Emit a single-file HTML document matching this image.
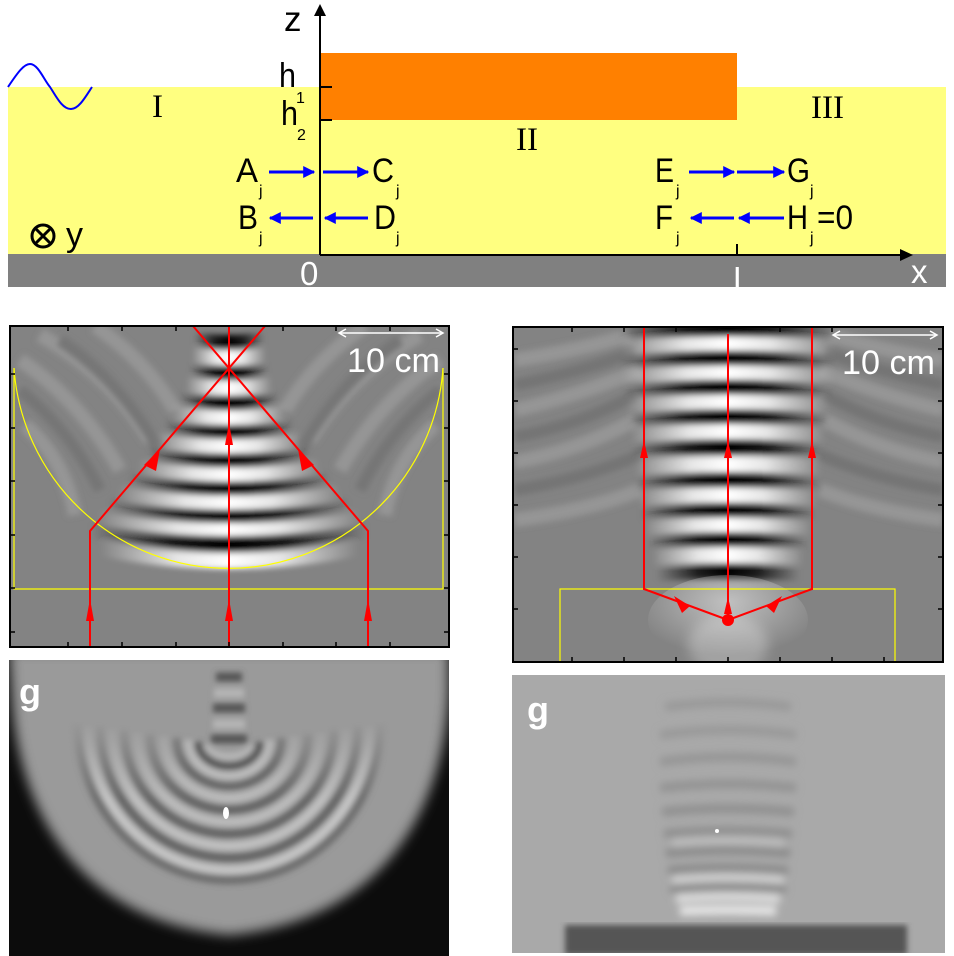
<!DOCTYPE html>
<html><head><meta charset="utf-8"><style>
html,body{margin:0;padding:0;background:#fff;}
svg{display:block;font-family:"Liberation Sans",sans-serif;}
</style></head><body>
<svg width="954" height="956" viewBox="0 0 954 956" xmlns="http://www.w3.org/2000/svg">
<defs>
<linearGradient id="dk" x1="0" x2="1" y1="0" y2="0">
<stop offset="0" stop-color="#000" stop-opacity="0"/><stop offset="0.3" stop-color="#000" stop-opacity="0.8"/><stop offset="0.5" stop-color="#000" stop-opacity="1"/><stop offset="0.7" stop-color="#000" stop-opacity="0.8"/><stop offset="1" stop-color="#000" stop-opacity="0"/></linearGradient>
<linearGradient id="wt" x1="0" x2="1" y1="0" y2="0">
<stop offset="0" stop-color="#fff" stop-opacity="0"/><stop offset="0.3" stop-color="#fff" stop-opacity="0.8"/><stop offset="0.5" stop-color="#fff" stop-opacity="1"/><stop offset="0.7" stop-color="#fff" stop-opacity="0.8"/><stop offset="1" stop-color="#fff" stop-opacity="0"/></linearGradient>
<linearGradient id="dk2" x1="0" x2="1"><stop offset="0" stop-color="#000" stop-opacity="0"/><stop offset="0.5" stop-color="#000" stop-opacity="0.45"/><stop offset="1" stop-color="#000" stop-opacity="0"/></linearGradient>
<linearGradient id="wt2" x1="0" x2="1"><stop offset="0" stop-color="#fff" stop-opacity="0"/><stop offset="0.5" stop-color="#fff" stop-opacity="0.45"/><stop offset="1" stop-color="#fff" stop-opacity="0"/></linearGradient>
<linearGradient id="fadeV" gradientUnits="userSpaceOnUse" x1="0" x2="0" y1="720" y2="800"><stop offset="0" stop-color="#fff" stop-opacity="0"/><stop offset="1" stop-color="#fff" stop-opacity="1"/></linearGradient>
<filter id="mb" x="-50%" y="-50%" width="200%" height="200%"><feGaussianBlur stdDeviation="12"/></filter>
<mask id="mfade" maskUnits="userSpaceOnUse" x="0" y="640" width="460" height="330"><rect x="0" y="640" width="460" height="330" fill="url(#fadeV)"/><rect x="180" y="640" width="98" height="150" fill="#fff" filter="url(#mb)"/></mask>
<radialGradient id="glow" cx="0.5" cy="0.3" r="0.6"><stop offset="0" stop-color="#fff" stop-opacity="0.9"/><stop offset="1" stop-color="#fff" stop-opacity="0"/></radialGradient>
<filter id="bl" x="-20%" y="-20%" width="140%" height="140%"><feGaussianBlur stdDeviation="6"/></filter>
<filter id="bl2" x="-10%" y="-10%" width="120%" height="120%"><feGaussianBlur stdDeviation="3"/></filter>
<filter id="bl3" x="-10%" y="-10%" width="120%" height="120%"><feGaussianBlur stdDeviation="4"/></filter>
<clipPath id="cl"><rect x="10" y="326" width="439" height="321"/></clipPath>
<clipPath id="cr"><rect x="513" y="327" width="430" height="335"/></clipPath>
<clipPath id="pl"><rect x="9" y="660" width="440" height="296"/></clipPath>
<clipPath id="pr"><rect x="512" y="675" width="433" height="278"/></clipPath>
<marker id="ab" viewBox="0 0 10 10" refX="9" refY="5" markerWidth="4" markerHeight="4" orient="auto"><path d="M0,0L10,5L0,10z" fill="#0000ff"/></marker>
</defs>

<!-- TOP DIAGRAM -->
<rect x="8" y="87" width="938" height="167" fill="#ffff80"/>
<rect x="8" y="254" width="938" height="33" fill="#808080"/>
<rect x="320" y="53" width="417" height="67" fill="#ff8000"/>
<path d="M8,87 C18,72 24,64 30,64 C38,64 44,80 50,87 C56,96 62,109 71,109 C79,109 86,96 92,87" fill="none" stroke="#0000ff" stroke-width="2"/>
<line x1="320" y1="255" x2="320" y2="12" stroke="#000" stroke-width="2"/>
<path d="M314,16 L320,4 L326,16z" fill="#000"/>
<line x1="320" y1="255" x2="905" y2="255" stroke="#000" stroke-width="2"/>
<path d="M900,249 L913,255 L900,261z" fill="#000"/>
<line x1="320" y1="87" x2="332" y2="87" stroke="#000" stroke-width="2"/>
<line x1="320" y1="120" x2="332" y2="120" stroke="#000" stroke-width="2"/>
<line x1="737" y1="244" x2="737" y2="255" stroke="#000" stroke-width="2"/>
<g font-size="34" fill="#000">
<text x="284" y="31" font-size="35">z</text>
<text x="279" y="87" textLength="17" lengthAdjust="spacingAndGlyphs">h</text><text x="296" y="103" font-size="16">1</text>
<text x="281" y="125" textLength="17" lengthAdjust="spacingAndGlyphs">h</text><text x="297" y="140" font-size="16">2</text>
<text x="152" y="117" font-family="Liberation Serif" font-size="33">I</text>
<text x="516" y="150" font-family="Liberation Serif" font-size="33">II</text>
<text x="811" y="118" font-family="Liberation Serif" font-size="33">III</text>
<text x="236" y="182" textLength="22" lengthAdjust="spacingAndGlyphs">A</text><text x="259" y="196" font-size="16">j</text>
<text x="238" y="229" textLength="20" lengthAdjust="spacingAndGlyphs">B</text><text x="259" y="243" font-size="16">j</text>
<text x="372" y="182" textLength="22" lengthAdjust="spacingAndGlyphs">C</text><text x="396" y="196" font-size="16">j</text>
<text x="374" y="229" textLength="22" lengthAdjust="spacingAndGlyphs">D</text><text x="396" y="243" font-size="16">j</text>
<text x="655" y="182" textLength="19" lengthAdjust="spacingAndGlyphs">E</text><text x="676" y="196" font-size="16">j</text>
<text x="655" y="229" textLength="18" lengthAdjust="spacingAndGlyphs">F</text><text x="676" y="243" font-size="16">j</text>
<text x="787" y="182" textLength="23" lengthAdjust="spacingAndGlyphs">G</text><text x="810" y="196" font-size="16">j</text>
<text x="787" y="229" textLength="21" lengthAdjust="spacingAndGlyphs">H</text><text x="810" y="243" font-size="16">j</text>
<text x="817" y="229" textLength="36" lengthAdjust="spacingAndGlyphs">=0</text>
<text x="66" y="246">y</text>
</g>
<circle cx="43" cy="236" r="11" fill="none" stroke="#000" stroke-width="3"/>
<path d="M36,229L50,243M50,229L36,243" stroke="#000" stroke-width="3"/>
<g fill="#fff" font-size="33"><text x="300" y="285">0</text><text x="733" y="290">L</text><text x="911" y="283">x</text></g>
<g stroke="#0000ff" stroke-width="3" marker-end="url(#ab)">
<line x1="269" y1="172" x2="314" y2="172"/><line x1="323" y1="172" x2="368" y2="172"/>
<line x1="313" y1="218" x2="270" y2="218"/><line x1="368" y1="218" x2="325" y2="218"/>
<line x1="689" y1="172" x2="734" y2="172"/><line x1="737" y1="172" x2="784" y2="172"/>
<line x1="734" y1="218" x2="691" y2="218"/><line x1="784" y1="218" x2="739" y2="218"/>
</g>

<!-- LEFT SIM PANEL -->
<g clip-path="url(#cl)">
<rect x="10" y="326" width="439" height="321" fill="#838383"/>
<g fill="none" stroke="#959595" stroke-width="14" filter="url(#bl2)">
<path d="M20,360 Q80,400 120,470"/><path d="M40,335 Q110,375 150,440"/><path d="M95,326 Q145,360 175,410"/>
<path d="M440,360 Q380,400 340,470"/><path d="M420,335 Q350,375 310,440"/><path d="M365,326 Q315,360 285,410"/>
<path d="M25,425 Q65,460 75,515"/><path d="M435,425 Q395,460 385,515"/>
</g>
<g fill="none" stroke="#767676" stroke-width="12" filter="url(#bl2)">
<path d="M20,390 Q70,430 100,490"/><path d="M440,390 Q390,430 360,490"/>
<path d="M60,340 Q120,380 160,450"/><path d="M400,340 Q340,380 300,450"/>
</g>
<g fill="none" stroke-width="16" filter="url(#bl2)">
<path d="M194,340 Q229,346 264,340" stroke="url(#dk)"/>
<path d="M192,355 Q229,361 266,355" stroke="url(#wt)"/>
<path d="M190,370 Q229,377 268,370" stroke="url(#dk)"/>
<path d="M186,385 Q229,392 272,385" stroke="url(#wt)"/>
<path d="M180,399 Q229,408 278,399" stroke="url(#dk)"/>
<path d="M172,413 Q229,424 286,413" stroke="url(#wt)"/>
<path d="M164,427 Q229,439 294,427" stroke="url(#dk)"/>
<path d="M156,440 Q229,454 302,440" stroke="url(#wt)"/>
<path d="M148,454 Q229,469 310,454" stroke="url(#dk)"/>
<path d="M138,467 Q229,484 320,467" stroke="url(#wt)"/>
<path d="M128,480 Q229,499 330,480" stroke="url(#dk)"/>
<path d="M118,493 Q229,514 340,493" stroke="url(#wt)"/>
<path d="M108,506 Q229,529 350,506" stroke="url(#dk)"/>
<path d="M98,518 Q229,544 360,518" stroke="url(#wt)"/>
<path d="M90,530 Q229,558 368,530" stroke="url(#dk)"/>
<path d="M100,548 Q229,574 358,548" stroke="url(#wt)"/>
</g>
<g fill="none" stroke-width="11" filter="url(#bl2)">
<path d="M150,603 L310,603" stroke="url(#wt2)"/>
<path d="M150,614 L310,614" stroke="url(#dk2)"/>
<path d="M150,626 L310,626" stroke="url(#wt2)"/>
<path d="M150,638 L310,638" stroke="url(#dk2)"/>
<path d="M20,605 L150,605" stroke="url(#dk2)"/><path d="M310,605 L440,605" stroke="url(#dk2)"/>
<path d="M20,630 L150,630" stroke="url(#dk2)"/><path d="M310,630 L440,630" stroke="url(#dk2)"/>
</g>
<path d="M14,368 A215,215 0 0 0 443,368" fill="none" stroke="#ffff00" stroke-width="1.2"/>
<path d="M14,368 L14,589 L443,589 L443,368" fill="none" stroke="#ffff00" stroke-width="1.2"/>
<g stroke="#ff0000" stroke-width="2" fill="none">
<line x1="229" y1="648" x2="229" y2="326"/>
<path d="M90,648 L90,531 L265,326"/>
<path d="M368,648 L368,531 L193,326"/>
</g>
<g fill="#ff0000">
<path d="M225,445 L229,423 L233,445z"/><path d="M225,621 L229,599 L233,621z"/>
<path d="M86,621 L90,599 L94,621z"/><path d="M364,621 L368,599 L372,621z"/>
<path d="M144,465 L160,449 L156,471z"/><path d="M314,465 L298,449 L302,471z"/>
</g>
<text x="347" y="372" fill="#fff" font-size="34" textLength="93" lengthAdjust="spacingAndGlyphs">10 cm</text>
<g stroke="#fff" stroke-width="1.5"><line x1="340" y1="333" x2="442" y2="333"/><path d="M346,329L339,333L346,337M436,329L443,333L436,337" fill="none"/></g>
</g>
<rect x="10" y="326" width="439" height="321" fill="none" stroke="#000" stroke-width="2"/>
<g stroke="#000" stroke-width="1.5">
<path d="M10,374h5M10,428h5M10,481h5M10,535h5M10,588h5M10,632h5M449,374h-5M449,428h-5M449,481h-5M449,535h-5M449,588h-5M449,632h-5"/>
<path d="M68,326v5M122,326v5M176,326v5M283,326v5M336,326v5M390,326v5M68,647v-5M122,647v-5M176,647v-5M229,647v-5M283,647v-5M336,647v-5M390,647v-5"/>
</g>

<!-- RIGHT SIM PANEL -->
<g clip-path="url(#cr)">
<rect x="513" y="327" width="430" height="335" fill="#838383"/>
<g fill="none" stroke="#959595" stroke-width="14" filter="url(#bl2)">
<path d="M515,360 Q580,350 630,335"/><path d="M515,410 Q580,395 640,370"/><path d="M515,462 Q580,450 635,420"/>
<path d="M943,360 Q880,350 830,335"/><path d="M943,410 Q880,395 820,370"/><path d="M943,462 Q880,450 825,420"/>
<path d="M515,520 Q590,510 640,490"/><path d="M943,520 Q870,510 820,490"/>
</g>
<g fill="none" stroke="#747474" stroke-width="12" filter="url(#bl2)">
<path d="M515,385 Q580,372 635,352"/><path d="M943,385 Q880,372 825,352"/>
<path d="M515,437 Q580,425 635,395"/><path d="M943,437 Q880,425 825,395"/>
<path d="M515,490 Q580,480 640,455"/><path d="M943,490 Q880,480 820,455"/>
</g>
<g fill="none" stroke-width="16" filter="url(#bl2)">
<path d="M618,333 Q728,326 838,333" stroke="url(#dk)"/>
<path d="M620,348 Q728,341 836,348" stroke="url(#wt)"/>
<path d="M620,362 Q728,355 836,362" stroke="url(#dk)"/>
<path d="M622,377 Q728,370 834,377" stroke="url(#wt)"/>
<path d="M624,391 Q728,384 832,391" stroke="url(#dk)"/>
<path d="M626,406 Q728,399 830,406" stroke="url(#wt)"/>
<path d="M628,420 Q728,414 828,420" stroke="url(#dk)"/>
<path d="M630,435 Q728,429 826,435" stroke="url(#wt)"/>
<path d="M632,450 Q728,444 824,450" stroke="url(#dk)"/>
<path d="M634,467 Q728,461 822,467" stroke="url(#wt)"/>
<path d="M636,483 Q728,477 820,483" stroke="url(#dk)"/>
<path d="M638,498 Q728,493 818,498" stroke="url(#wt)"/>
<path d="M640,513 Q728,508 816,513" stroke="url(#dk)"/>
<path d="M644,528 Q728,523 812,528" stroke="url(#wt)"/>
<path d="M648,542 Q728,538 808,542" stroke="url(#dk)"/>
<path d="M652,557 Q728,553 804,557" stroke="url(#wt)"/>
<path d="M656,573 Q728,569 800,573" stroke="url(#dk)"/>
</g>
<ellipse cx="728" cy="620" rx="80" ry="45" fill="url(#glow)" opacity="0.55"/>
<ellipse cx="728" cy="645" rx="40" ry="30" fill="#fff" opacity="0.25" filter="url(#bl)"/>
<rect x="560" y="589" width="335" height="80" fill="none" stroke="#ffff00" stroke-width="1.2"/>
<g stroke="#ff0000" stroke-width="2" fill="none">
<line x1="728" y1="620" x2="728" y2="334"/>
<path d="M644,327 L644,589 L728,620 L812,589 L812,327"/>
</g>
<g fill="#ff0000">
<path d="M724,458 L728,441 L732,458z"/><path d="M724,614 L728,597 L732,614z"/>
<path d="M640,458 L644,441 L648,458z"/><path d="M808,458 L812,441 L816,458z"/>
<path d="M674,596 L690,606 L682,613z"/><path d="M782,596 L766,606 L774,613z"/>
<circle cx="728" cy="620" r="6"/>
</g>
<text x="842" y="374" fill="#fff" font-size="34" textLength="93" lengthAdjust="spacingAndGlyphs">10 cm</text>
<g stroke="#fff" stroke-width="1.5"><line x1="834" y1="335" x2="936" y2="335"/><path d="M840,331L833,335L840,339M930,331L937,335L930,339" fill="none"/></g>
</g>
<rect x="513" y="327" width="430" height="335" fill="none" stroke="#000" stroke-width="2"/>
<g stroke="#000" stroke-width="1.5">
<path d="M513,349h5M513,401h5M513,453h5M513,505h5M513,557h5M513,609h5M943,349h-5M943,401h-5M943,453h-5M943,505h-5M943,557h-5M943,609h-5"/>
<path d="M572,327v5M624,327v5M676,327v5M780,327v5M832,327v5M572,662v-5M624,662v-5M676,662v-5M728,662v-5M780,662v-5M832,662v-5M884,662v-5"/>
</g>

<!-- LEFT PHOTO -->
<g clip-path="url(#pl)">
<rect x="9" y="660" width="440" height="296" fill="#0c0c0c"/>
<path d="M9,650 L449,650 L449,690 C445,800 390,920 229,935 C70,920 18,800 12,700 Z" fill="#9a9a9a" filter="url(#bl)"/>
<g mask="url(#mfade)">
<g fill="none" stroke-width="9" filter="url(#bl2)">
<path d="M216,677 L242,677" stroke="#555"/>
<path d="M214,693 L244,693" stroke="#b5b5b5"/>
<path d="M213,708 L245,708" stroke="#555"/>
<path d="M213,724 L245,724" stroke="#b5b5b5"/>
<path d="M211,739 L247,739" stroke="#555"/>
<path d="M206,745 A23,12 0 0 0 252,745" stroke="#b5b5b5"/>
<path d="M198,742 A31,24 0 0 0 260,742" stroke="#5a5a5a"/>
<path d="M188,740 A41,36 0 0 0 270,740" stroke="#bbb"/>
<path d="M176,738 A53,48 0 0 0 282,738" stroke="#666"/>
<path d="M163,736 A66,62 0 0 0 295,736" stroke="#bbb"/>
<path d="M150,734 A79,76 0 0 0 308,734" stroke="#666"/>
<path d="M137,732 A92,90 0 0 0 321,732" stroke="#bbb"/>
<path d="M124,730 A105,104 0 0 0 334,730" stroke="#666"/>
<path d="M112,728 A117,118 0 0 0 346,728" stroke="#c0c0c0"/>
<path d="M100,726 A129,132 0 0 0 358,726" stroke="#666"/>
<path d="M88,724 A141,146 0 0 0 370,724" stroke="#c4c4c4"/>
<path d="M78,722 A151,158 0 0 0 380,722" stroke="#707070"/>
</g>
</g>
<ellipse cx="226" cy="813" rx="3" ry="6" fill="#fff"/>
<text x="19" y="704" fill="#fff" font-size="36" font-weight="bold">g</text>
</g>

<!-- RIGHT PHOTO -->
<g clip-path="url(#pr)">
<rect x="512" y="675" width="433" height="278" fill="#a9a9a9"/>
<g fill="none" stroke-width="9" filter="url(#bl3)">
<path d="M665,707 Q728,698 791,707" stroke="#999"/>
<path d="M660,735 Q728,725 796,735" stroke="#999"/>
<path d="M660,762 Q728,752 796,762" stroke="#959595"/>
<path d="M660,788 Q728,780 796,788" stroke="#939393"/>
<path d="M662,812 Q728,805 794,812" stroke="#909090"/>
<path d="M664,834 Q728,828 792,834" stroke="#8e8e8e"/>
<path d="M666,853 Q728,847 790,853" stroke="#8a8a8a"/>
<path d="M668,871 Q728,866 788,871" stroke="#888"/>
<path d="M670,889 Q728,884 786,889" stroke="#888"/>
<path d="M672,843 Q728,838 784,843" stroke="#bdbdbd"/>
<path d="M672,880 Q728,875 784,880" stroke="#d0d0d0"/>
<path d="M676,899 Q728,895 780,899" stroke="#dcdcdc"/>
<path d="M680,911 Q728,909 776,911" stroke="#e8e8e8"/>
</g>
<rect x="565" y="925" width="342" height="30" fill="#555" filter="url(#bl2)"/>
<circle cx="717" cy="831" r="2" fill="#fff"/>
<text x="527" y="722" fill="#fff" font-size="36" font-weight="bold">g</text>
</g>
</svg>
</body></html>
